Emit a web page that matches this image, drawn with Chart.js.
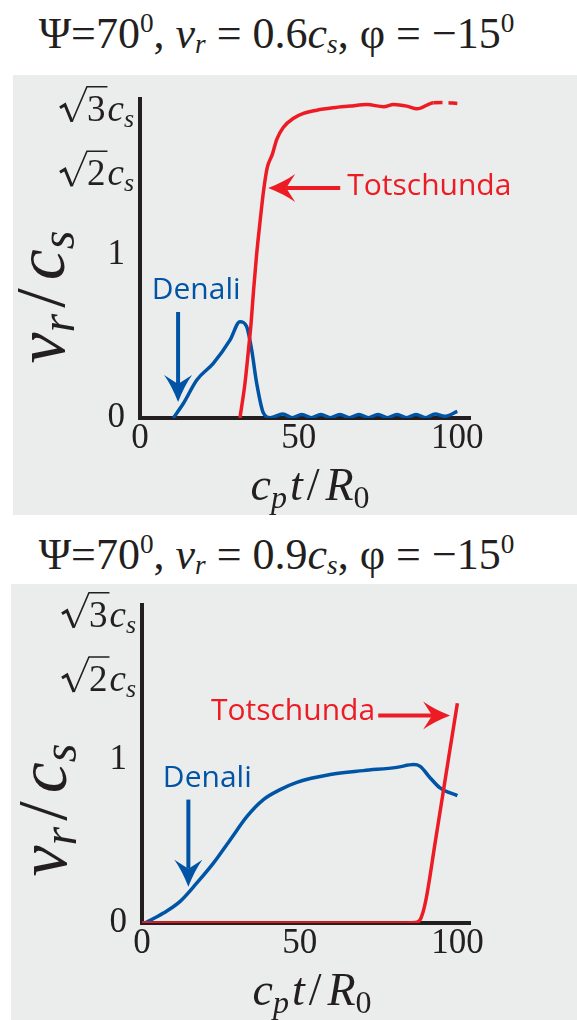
<!DOCTYPE html>
<html>
<head>
<meta charset="utf-8">
<script src="https://cdn.jsdelivr.net/npm/chart.js@4/dist/chart.umd.min.js"></script>
<style>
  body { margin: 0; background: #fff; width: 577px; height: 1020px; position: relative; overflow: hidden; }
  .title { position: absolute; left: 0; width: 553px; text-align: center; white-space: nowrap;
           font-family: "Liberation Serif", serif; font-size: 44px; line-height: 44px; color: #231f20; }
  .title sup { font-size: 0.62em; vertical-align: 16px; line-height: 0; }
  .title sub { font-size: 0.62em; vertical-align: -5px; line-height: 0; }
  .panel { position: absolute; background: #ebecec; }
  canvas { display: block; }
</style>
</head>
<body>
<div class="title" style="top:12px">Ψ=70<sup>0</sup>, <i>v<sub>r</sub></i> = 0.6<i>c<sub>s</sub></i>, φ = −15<sup>0</sup></div>
<div class="panel" style="left:13px;top:75px;width:564px;height:440px"><canvas id="chartA" width="564" height="440"></canvas></div>
<div class="title" style="top:533px">Ψ=70<sup>0</sup>, <i>v<sub>r</sub></i> = 0.9<i>c<sub>s</sub></i>, φ = −15<sup>0</sup></div>
<div class="panel" style="left:11px;top:584px;width:566px;height:436px"><canvas id="chartB" width="566" height="436"></canvas></div>

<script>
const BLUE = '#0054a6';
const RED = '#ed1c24';
const INK = '#231f20';

// axis ticks
const xTickValues = [0, 50, 100];
const yTickValues = [0, 1, Math.SQRT2, Math.sqrt(3)];
const yTickLabels = ['0', '1', '√2', '√3'];

// v_r = 0.6 c_s : rupture speed over time
const denaliA_t = [10.5, 13.7, 17.9, 23.1, 28.4, 31.5, 33.6, 35.2, 36.8, 38.9, 41, 45, 48, 51, 54, 57, 60, 63, 66, 69, 72, 75, 78, 81, 84, 87, 90, 93, 96, 100];
const denaliA_v = [0, 0.09, 0.233, 0.335, 0.478, 0.59, 0.56, 0.416, 0.21, 0.03, 0.002, 0.024, 0.002, 0.022, 0.002, 0.022, 0.002, 0.022, 0.002, 0.022, 0.002, 0.022, 0.002, 0.022, 0.002, 0.022, 0.002, 0.024, 0.01, 0.04];
const totschundaA_t = [31.5, 33.1, 34.2, 35.0, 35.8, 36.7, 37.8, 39.0, 40.1, 41.7, 43.1, 45.2, 48.4, 51.5, 55.7, 61.0, 66.2, 71.5, 76.8, 79.9, 84.1, 87.3, 92.5, 95.5, 100];
const totschundaA_v = [0, 0.215, 0.42, 0.58, 0.785, 0.99, 1.161, 1.328, 1.437, 1.502, 1.576, 1.636, 1.68, 1.704, 1.72, 1.732, 1.74, 1.748, 1.737, 1.748, 1.74, 1.727, 1.757, 1.758, 1.753];
const totschundaA_dashFrom = 92.5;

// v_r = 0.9 c_s
const denaliB_t = [1, 6.8, 12.1, 17.4, 22.7, 28.0, 33.3, 38.5, 43.8, 49.1, 59.7, 70.2, 80.8, 86.1, 88.2, 91.4, 94.5, 100];
const denaliB_v = [0, 0.061, 0.133, 0.246, 0.369, 0.512, 0.655, 0.758, 0.819, 0.864, 0.912, 0.936, 0.956, 0.973, 0.962, 0.891, 0.83, 0.782];
const totschundaB_t = [0, 84, 86.5, 88, 89, 90.2, 93, 95, 97.1, 100];
const totschundaB_v = [0, 0, 0.003, 0.015, 0.06, 0.16, 0.50, 0.743, 1.0, 1.287];

// the vertical axis is stretched piecewise: 1, √2 and √3 sit at these heights
const warpFrom = [0, 1, Math.SQRT2, Math.sqrt(3)];
const warpTo = [0, 1, 1.505, 1.90];

function interp(v, from, to) {
  let i = 1;
  while (i < from.length - 1 && v > from[i]) i++;
  return to[i - 1] + (v - from[i - 1]) * (to[i] - to[i - 1]) / (from[i] - from[i - 1]);
}

class WarpScale extends Chart.LinearScale {
  warpRange() {
    return [interp(this.options.min, warpFrom, warpTo), interp(this.options.max, warpFrom, warpTo)];
  }
  getPixelForValue(v) {
    const [a, b] = this.warpRange();
    return this.getPixelForDecimal((interp(v, warpFrom, warpTo) - a) / (b - a));
  }
  getValueForPixel(p) {
    const [a, b] = this.warpRange();
    return interp(a + this.getDecimalForPixel(p) * (b - a), warpTo, warpFrom);
  }
}
WarpScale.id = 'warp';
WarpScale.defaults = Chart.LinearScale.defaults;
Chart.register(WarpScale);

const toPoints = (t, v) => t.map((x, i) => ({ x: x, y: v[i] }));

const SERIF = '"Liberation Serif", serif';

// draws a row of text pieces (italic letters, subscripts) side by side
function drawRuns(ctx, runs, x, y, align) {
  let w = 0;
  runs.forEach(r => { ctx.font = r.font; r.w = ctx.measureText(r.text).width + (r.gap || 0); w += r.w; });
  let cx = align === 'center' ? x - w / 2 : (align === 'right' ? x - w : x);
  runs.forEach(r => { ctx.font = r.font; ctx.fillText(r.text, cx, y + (r.dy || 0)); cx += r.w; });
}

function rootLabel(ctx, digit, xr, yc) {
  const digitFont = '37px ' + SERIF;
  const cFont = 'italic 37px ' + SERIF;
  const sFont = 'italic 26px ' + SERIF;
  ctx.font = digitFont; const dw = ctx.measureText(digit).width;
  ctx.font = cFont; const cw = ctx.measureText('c').width;
  ctx.font = sFont; const sw = ctx.measureText('s').width;
  const rw = 27;
  const x = xr - (rw + dw + 2 + cw + sw);
  const b = yc + 13;
  ctx.strokeStyle = INK;
  ctx.lineJoin = 'miter';
  ctx.beginPath();
  ctx.moveTo(x, b - 13); ctx.lineTo(x + 5, b - 16); ctx.lineTo(x + 12, b + 1);
  ctx.lineWidth = 3; ctx.stroke();
  ctx.beginPath();
  ctx.moveTo(x + 12, b + 1); ctx.lineTo(x + rw, b - 34); ctx.lineTo(x + rw + dw + 2, b - 34);
  ctx.lineWidth = 1.6; ctx.stroke();
  ctx.fillStyle = INK;
  ctx.textBaseline = 'alphabetic';
  ctx.textAlign = 'left';
  ctx.font = digitFont; ctx.fillText(digit, x + rw, b);
  ctx.font = cFont; ctx.fillText('c', x + rw + dw + 2, b);
  ctx.font = sFont; ctx.fillText('s', x + rw + dw + 2 + cw, b + 6);
}

function arrow(ctx, x0, y0, x1, y1, color) {
  const a = Math.atan2(y1 - y0, x1 - x0);
  const len = 27, half = 14, notch = 9;
  ctx.save();
  ctx.strokeStyle = color; ctx.fillStyle = color; ctx.lineWidth = 4;
  ctx.beginPath();
  ctx.moveTo(x0, y0);
  ctx.lineTo(x1 - Math.cos(a) * (len - notch), y1 - Math.sin(a) * (len - notch));
  ctx.stroke();
  ctx.translate(x1, y1); ctx.rotate(a);
  ctx.beginPath();
  ctx.moveTo(0, 0);
  ctx.quadraticCurveTo(-len * 0.6, -half * 0.45, -len, -half);
  ctx.lineTo(-(len - notch), 0);
  ctx.lineTo(-len, half);
  ctx.quadraticCurveTo(-len * 0.6, half * 0.45, 0, 0);
  ctx.fill();
  ctx.restore();
}

const decor = {
  id: 'decor',
  afterDraw(chart, args, opts) {
    const ctx = chart.ctx;
    const xs = chart.scales.x, ys = chart.scales.y, area = chart.chartArea;
    ctx.save();
    // radical tick labels
    yTickValues.forEach((v, i) => {
      if (yTickLabels[i].startsWith('√')) rootLabel(ctx, yTickLabels[i].slice(1), area.left - 6, ys.getPixelForValue(v));
    });
    // axis titles
    ctx.fillStyle = INK;
    ctx.textBaseline = 'alphabetic';
    ctx.textAlign = 'left';
    const big = 'italic 70px ' + SERIF, small = 'italic 48px ' + SERIF;
    ctx.save();
    ctx.translate(area.left - 76, area.bottom - opts.yTitleDrop);
    ctx.rotate(-Math.PI / 2);
    drawRuns(ctx, [
      { text: 'v', font: big },
      { text: 'r', font: small, dy: 10, gap: 6 },
      { text: '/', font: '70px ' + SERIF, gap: 8 },
      { text: 'c', font: big },
      { text: 's', font: small, dy: 10 }
    ], 0, 0, 'center');
    ctx.restore();
    const xf = 'italic 46px ' + SERIF, xsf = 'italic 32px ' + SERIF;
    drawRuns(ctx, [
      { text: 'c', font: xf },
      { text: 'p', font: xsf, dy: 8, gap: 3 },
      { text: 't', font: xf, gap: 4 },
      { text: '/', font: '46px ' + SERIF, gap: 6 },
      { text: 'R', font: xf },
      { text: '0', font: '32px ' + SERIF, dy: 8 }
    ], area.left + 170, area.bottom + 82, 'center');
    // fault labels and arrows
    ctx.font = '30px "Open Sans"';
    ctx.textBaseline = 'middle';
    opts.notes.forEach(n => {
      ctx.fillStyle = n.color;
      ctx.textAlign = n.align;
      ctx.fillText(n.text, xs.getPixelForValue(n.x), ys.getPixelForValue(n.y));
      arrow(ctx, xs.getPixelForValue(n.from[0]), ys.getPixelForValue(n.from[1]),
        xs.getPixelForValue(n.to[0]), ys.getPixelForValue(n.to[1]), n.color);
    });
    ctx.restore();
  }
};

// tick labels must not push the plot area inwards
function fixAxis(size, key) {
  return s => {
    s[key] = size;
    s.paddingTop = 0; s.paddingBottom = 0; s.paddingLeft = 0; s.paddingRight = 0;
  };
}

function makePanel(id, dims, denali, totschunda, dashFrom, notes) {
  return new Chart(document.getElementById(id), {
    type: 'line',
    data: {
      datasets: [
        { label: 'Denali', data: denali, borderColor: BLUE, borderWidth: 3.5, order: 1 },
        {
          label: 'Totschunda', data: totschunda, borderColor: RED, borderWidth: 3.5, order: 0,
          segment: { borderDash: c => (c.p0.parsed.x >= dashFrom ? [9, 6] : undefined) }
        }
      ]
    },
    options: {
      responsive: false,
      animation: false,
      events: [],
      elements: { point: { radius: 0 }, line: { cubicInterpolationMode: 'monotone', fill: false } },
      layout: { padding: { top: dims.top, right: dims.right, left: 0, bottom: 0 } },
      scales: {
        x: {
          type: 'linear', min: 0, max: 104, bounds: 'data', z: 1,
          grid: { display: false, drawTicks: false },
          border: { color: INK, width: 4 },
          afterBuildTicks: s => { s.ticks = xTickValues.map(v => ({ value: v })); },
          afterFit: fixAxis(dims.xh, 'height'),
          ticks: { color: INK, padding: 0, font: { family: SERIF, size: 35 }, callback: v => String(v) }
        },
        y: {
          type: 'warp', min: 0, max: 1.775, bounds: 'data', z: 1,
          grid: { display: false, drawTicks: false },
          border: { color: INK, width: 4 },
          afterBuildTicks: s => { s.ticks = yTickValues.map(v => ({ value: v })); },
          afterFit: fixAxis(dims.yw, 'width'),
          ticks: {
            color: INK, padding: 15, font: { family: SERIF, size: 35 },
            callback: (v, i) => (yTickLabels[i].startsWith('√') ? '' : yTickLabels[i])
          }
        }
      },
      plugins: {
        legend: { display: false },
        tooltip: { enabled: false },
        decor: { notes: notes, yTitleDrop: dims.yTitleDrop }
      }
    },
    plugins: [decor]
  });
}

makePanel('chartA', { top: 24, right: 107, xh: 97, yw: 127, yTitleDrop: 121 },
  toPoints(denaliA_t, denaliA_v), toPoints(totschundaA_t, totschundaA_v), totschundaA_dashFrom, [
    { text: 'Denali', color: BLUE, align: 'center', x: 17.7, y: 0.778, from: [12.0, 0.649], to: [12.0, 0.098] },
    { text: 'Totschunda', color: RED, align: 'left', x: 65.3, y: 1.345, from: [63.1, 1.335], to: [40.4, 1.335] }
  ]);

makePanel('chartB', { top: 21, right: 107, xh: 97, yw: 131, yTitleDrop: 113 },
  toPoints(denaliB_t, denaliB_v), toPoints(totschundaB_t, totschundaB_v), Infinity, [
    { text: 'Denali', color: BLUE, align: 'center', x: 20.7, y: 0.887, from: [14.7, 0.758], to: [14.7, 0.223] },
    { text: 'Totschunda', color: RED, align: 'right', x: 73.9, y: 1.245, from: [74.9, 1.225], to: [97.7, 1.225] }
  ]);
</script>
</body>
</html>
